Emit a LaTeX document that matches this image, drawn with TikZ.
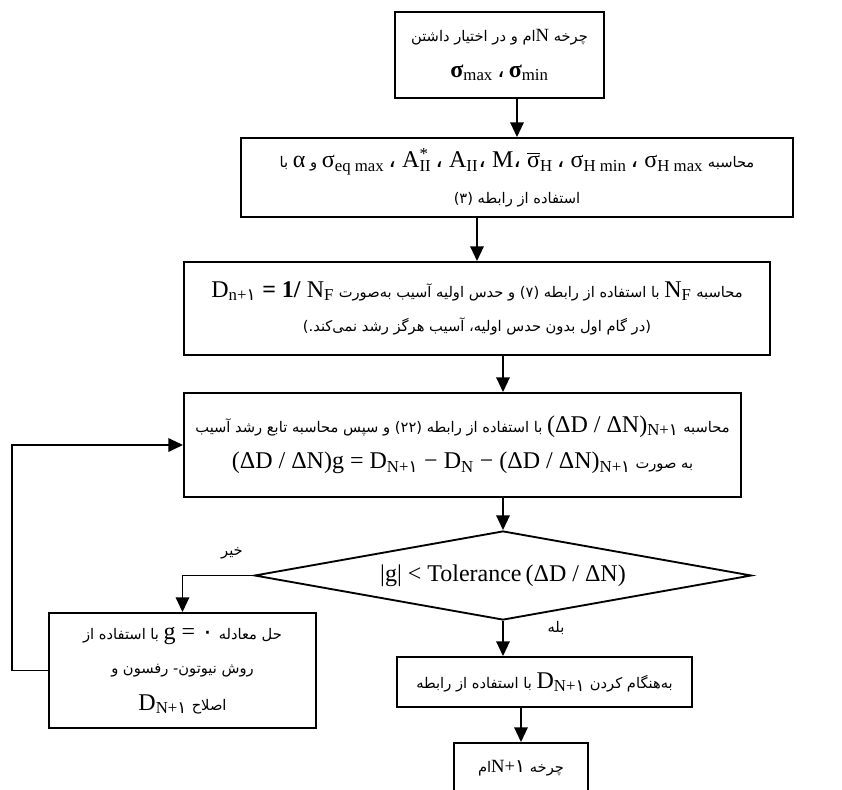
\documentclass[tikz,border=0pt]{standalone}
\usepackage{fontspec}
\setmainfont{Liberation Serif}
\newfontfamily\fa[Script=Arabic]{DejaVu Sans}
\TeXXeTstate=1
\usetikzlibrary{arrows.meta,shapes.geometric}

\newcommand{\fat}[1]{{\fa\fontsize{11}{14}\selectfont\beginR #1\endR}}
\newcommand{\mth}[1]{\beginL{\rmfamily\fontsize{18}{20}\selectfont #1}\endL}
\newcommand{\mtn}[1]{\beginL{\rmfamily\fontsize{14}{15}\selectfont #1}\endL}
\newcommand{\pd}[1]{{\fa #1}}

\tikzset{
  box/.style={draw, line width=1.4pt, align=center, inner sep=2pt},
  cond/.style={draw, diamond, shape aspect=5.6, line width=1.4pt, inner sep=0pt, align=center},
  arr/.style={line width=1.4pt, -{Triangle[length=11pt,width=10pt]}},
  lbl/.style={inner sep=1pt}
}

\begin{document}
\begin{tikzpicture}[x=0.75pt,y=-0.75pt]
  \useasboundingbox (0,0) rectangle (842,789);

  % Cajas
  \node[box, minimum width=209*0.75pt, minimum height=86*0.75pt] (b1) at (499.5,55)
    {\fat{چرخه \mtn{N}ام و در اختیار داشتن}\\[14pt]
     \mth{\textbf{σ}\textsubscript{max}\,\pd{،}\,\textbf{σ}\textsubscript{min}}};
  \node[box, minimum width=552*0.75pt, minimum height=79*0.75pt] (b2) at (517,177.5)
    {\fat{محاسبه \mth{σ\textsubscript{eq max}\,\pd{،} A\rlap{\textsuperscript{*}}\textsubscript{II}\,\pd{،} A\textsubscript{II}\pd{،} M\pd{،} $\overline{\hbox{σ}}$\textsubscript{H}\,\pd{،} σ\textsubscript{H min}\,\pd{،} σ\textsubscript{H max}} و \mth{α} با}\\[12pt]
     \fat{استفاده از رابطه (۳)}};
  \node[box, minimum width=586*0.75pt, minimum height=93*0.75pt] (b3) at (477,308.5)
    {\fat{محاسبه \mth{N\textsubscript{F}} با استفاده از رابطه (۷) و حدس اولیه آسیب به‌صورت \mth{D\textsubscript{n+\pd{۱}} \textbf{= 1/} N\textsubscript{F}}}\\[12pt]
     \fat{(در گام اول بدون حدس اولیه، آسیب هرگز رشد نمی‌کند.)}};
  \node[box, minimum width=557*0.75pt, minimum height=104*0.75pt] (b4) at (462.5,445)
    {\fat{محاسبه \mth{(ΔD / ΔN)\textsubscript{N+\pd{۱}}} با استفاده از رابطه (۲۲) و سپس محاسبه تابع رشد آسیب}\\[10pt]
     \fat{به صورت \mth{(ΔD / ΔN)g = D\textsubscript{N+\pd{۱}} − D\textsubscript{N} − (ΔD / ΔN)\textsubscript{N+\pd{۱}}}}};
  \node[cond, minimum width=497*0.75pt, minimum height=89*0.75pt] (dia) at (503,575.5)
    {\mth{|g| < Tolerance\,(ΔD / ΔN)}};
  \node[box, minimum width=267*0.75pt, minimum height=115*0.75pt] (b5) at (182.5,670.5)
    {\fat{حل معادله \mth{g = \pd{۰}} با استفاده از}\\[14pt]
     \fat{روش نیوتون- رفسون و}\\[12pt]
     \fat{اصلاح \mth{D\textsubscript{N+\pd{۱}}}}};
  \node[box, minimum width=295*0.75pt, minimum height=50*0.75pt] (b6) at (544.5,682)
    {\fat{به‌هنگام کردن \mth{D\textsubscript{N+\pd{۱}}} با استفاده از رابطه}};
  \node[box, minimum width=134*0.75pt, minimum height=50*0.75pt] (b7) at (521,768)
    {\fat{چرخه \mtn{N+\pd{۱}}ام}};

  % Etiquetas
  \node[lbl] (no) at (232,553) {\fat{خیر}};
  \node[lbl] (yes) at (556,628) {\fat{بله}};

  % Flechas
  \draw[arr] (b1.south -| b2.north) -- (b2.north);
  \draw[arr] (b2.south -| b3.north) -- (b3.north);
  \draw[arr] (b3.south -| dia.north) -- (b4.north -| dia.north);
  \draw[arr] (b4.south -| dia.north) -- (dia.north);
  \draw[arr] (dia.south) -- (b6.north -| dia.south);
  \draw[arr] (b6.south -| b7.north) -- (b7.north);
  \draw[arr] (dia.west) -| (b5.north);
  \draw[arr] (b5.west) -- ++(-36,0) |- (b4.west);
\end{tikzpicture}
\end{document}
